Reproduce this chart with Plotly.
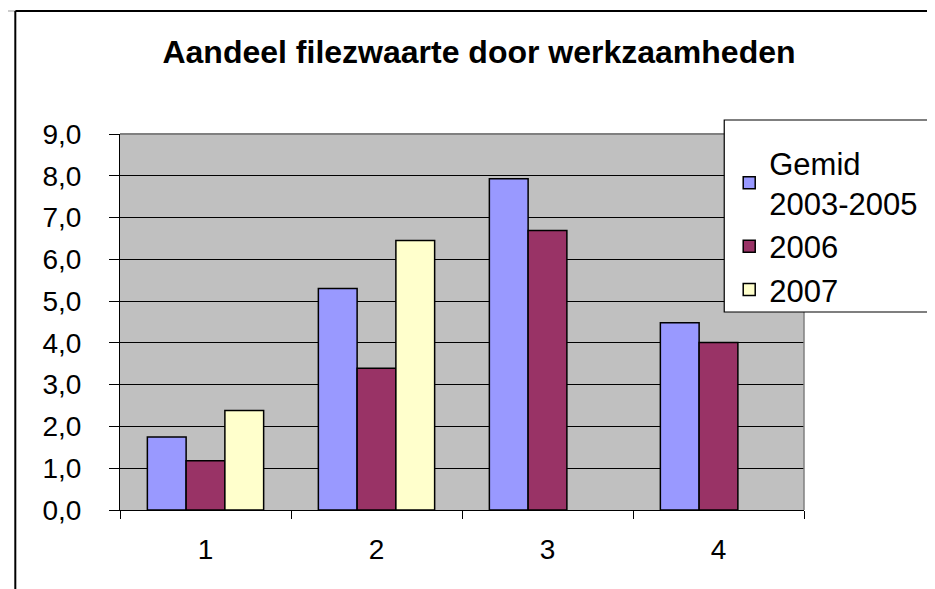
import plotly.graph_objects as go

categories = ["1", "2", "3", "4"]
gemid_2003_2005 = [1.75, 5.3, 7.93, 4.48]
y2006 = [1.18, 3.39, 6.69, 4.01]
y2007 = [2.38, 6.45, None, None]
series_names = ["Gemid<br>2003-2005", "2006", "2007"]
y_ticks = [0, 1, 2, 3, 4, 5, 6, 7, 8, 9]

OFF = 8  # page body margin
W, H = 935 - OFF, 589 - OFF
L, R, T, B = 120 - OFF, 806 - OFF, 134 - OFF, 510 - OFF


def px_x(p):
    """reference screen x -> paper fraction"""
    return (p - OFF - L) / (R - L)


def px_y(p):
    """reference screen y -> paper fraction"""
    return (B - (p - OFF)) / (B - T)


fig = go.Figure()
colors = ["#9999FF", "#993366", "#FFFFCC"]
for name, vals, c in zip(series_names, [gemid_2003_2005, y2006, y2007], colors):
    fig.add_trace(go.Bar(
        x=categories, y=vals, name=name,
        marker=dict(color=c, line=dict(color="black", width=1.5)),
    ))

FAM = "Arial, Liberation Sans, sans-serif"
tick_font = dict(family=FAM, size=28, color="black")
leg_font = dict(family=FAM, size=31, color="black")

fig.update_layout(
    width=W, height=H,
    margin=dict(l=L, r=W - R, t=T, b=H - B, pad=0),
    paper_bgcolor="white",
    plot_bgcolor="#C0C0C0",
    barmode="group",
    bargap=0.32,
    bargroupgap=0,
    separators=", ",
    font=tick_font,
    title=dict(
        text="<b>Aandeel filezwaarte door werkzaamheden</b>",
        font=dict(family=FAM, size=32, color="black"),
        x=(479 - OFF) / W, xanchor="center", xref="container",
        y=1 - (52 - OFF) / H, yanchor="middle", yref="container",
    ),
    legend=dict(
        x=px_x(731), y=px_y(136), xanchor="left", yanchor="top",
        bgcolor="rgba(0,0,0,0)", borderwidth=0,
        font=leg_font,
        traceorder="normal",
    ),
    xaxis=dict(
        type="category",
        showline=True, linecolor="black", linewidth=1,
        ticks="outside", tickson="boundaries", ticklen=8, tickcolor="black",
        showgrid=False,
        tickfont=tick_font,
        ticklabelstandoff=14,
    ),
    yaxis=dict(
        range=[0, 9],
        tickvals=y_ticks,
        tickformat=".1f",
        showline=True, linecolor="black", linewidth=1,
        ticks="outside", ticklen=10, tickcolor="black",
        showgrid=True, gridcolor="black", gridwidth=1,
        zeroline=False,
        tickfont=tick_font,
        ticklabelstandoff=22,
    ),
    shapes=[
        # plot area top/right border (gray)
        dict(type="line", xref="paper", yref="paper", x0=0, x1=1, y0=1, y1=1,
             line=dict(color="#808080", width=2), layer="above"),
        dict(type="line", xref="paper", yref="paper", x0=1, x1=1, y0=0, y1=1,
             line=dict(color="#808080", width=1.5), layer="above"),
        # chart frame
        dict(type="line", xref="paper", yref="paper",
             x0=px_x(15), x1=px_x(940), y0=px_y(11), y1=px_y(11),
             line=dict(color="black", width=2)),
        dict(type="line", xref="paper", yref="paper",
             x0=px_x(5), x1=px_x(15), y0=px_y(11), y1=px_y(11),
             line=dict(color="#999999", width=1)),
        dict(type="line", xref="paper", yref="paper",
             x0=px_x(15), x1=px_x(15), y0=px_y(11), y1=px_y(600),
             line=dict(color="black", width=2)),
        # legend box
        dict(type="rect", xref="paper", yref="paper",
             x0=px_x(726), x1=px_x(945), y0=px_y(312), y1=px_y(120),
             fillcolor="white", line=dict(color="black", width=1.2), layer="above"),
    ],
)

fig.write_html("out.html")
